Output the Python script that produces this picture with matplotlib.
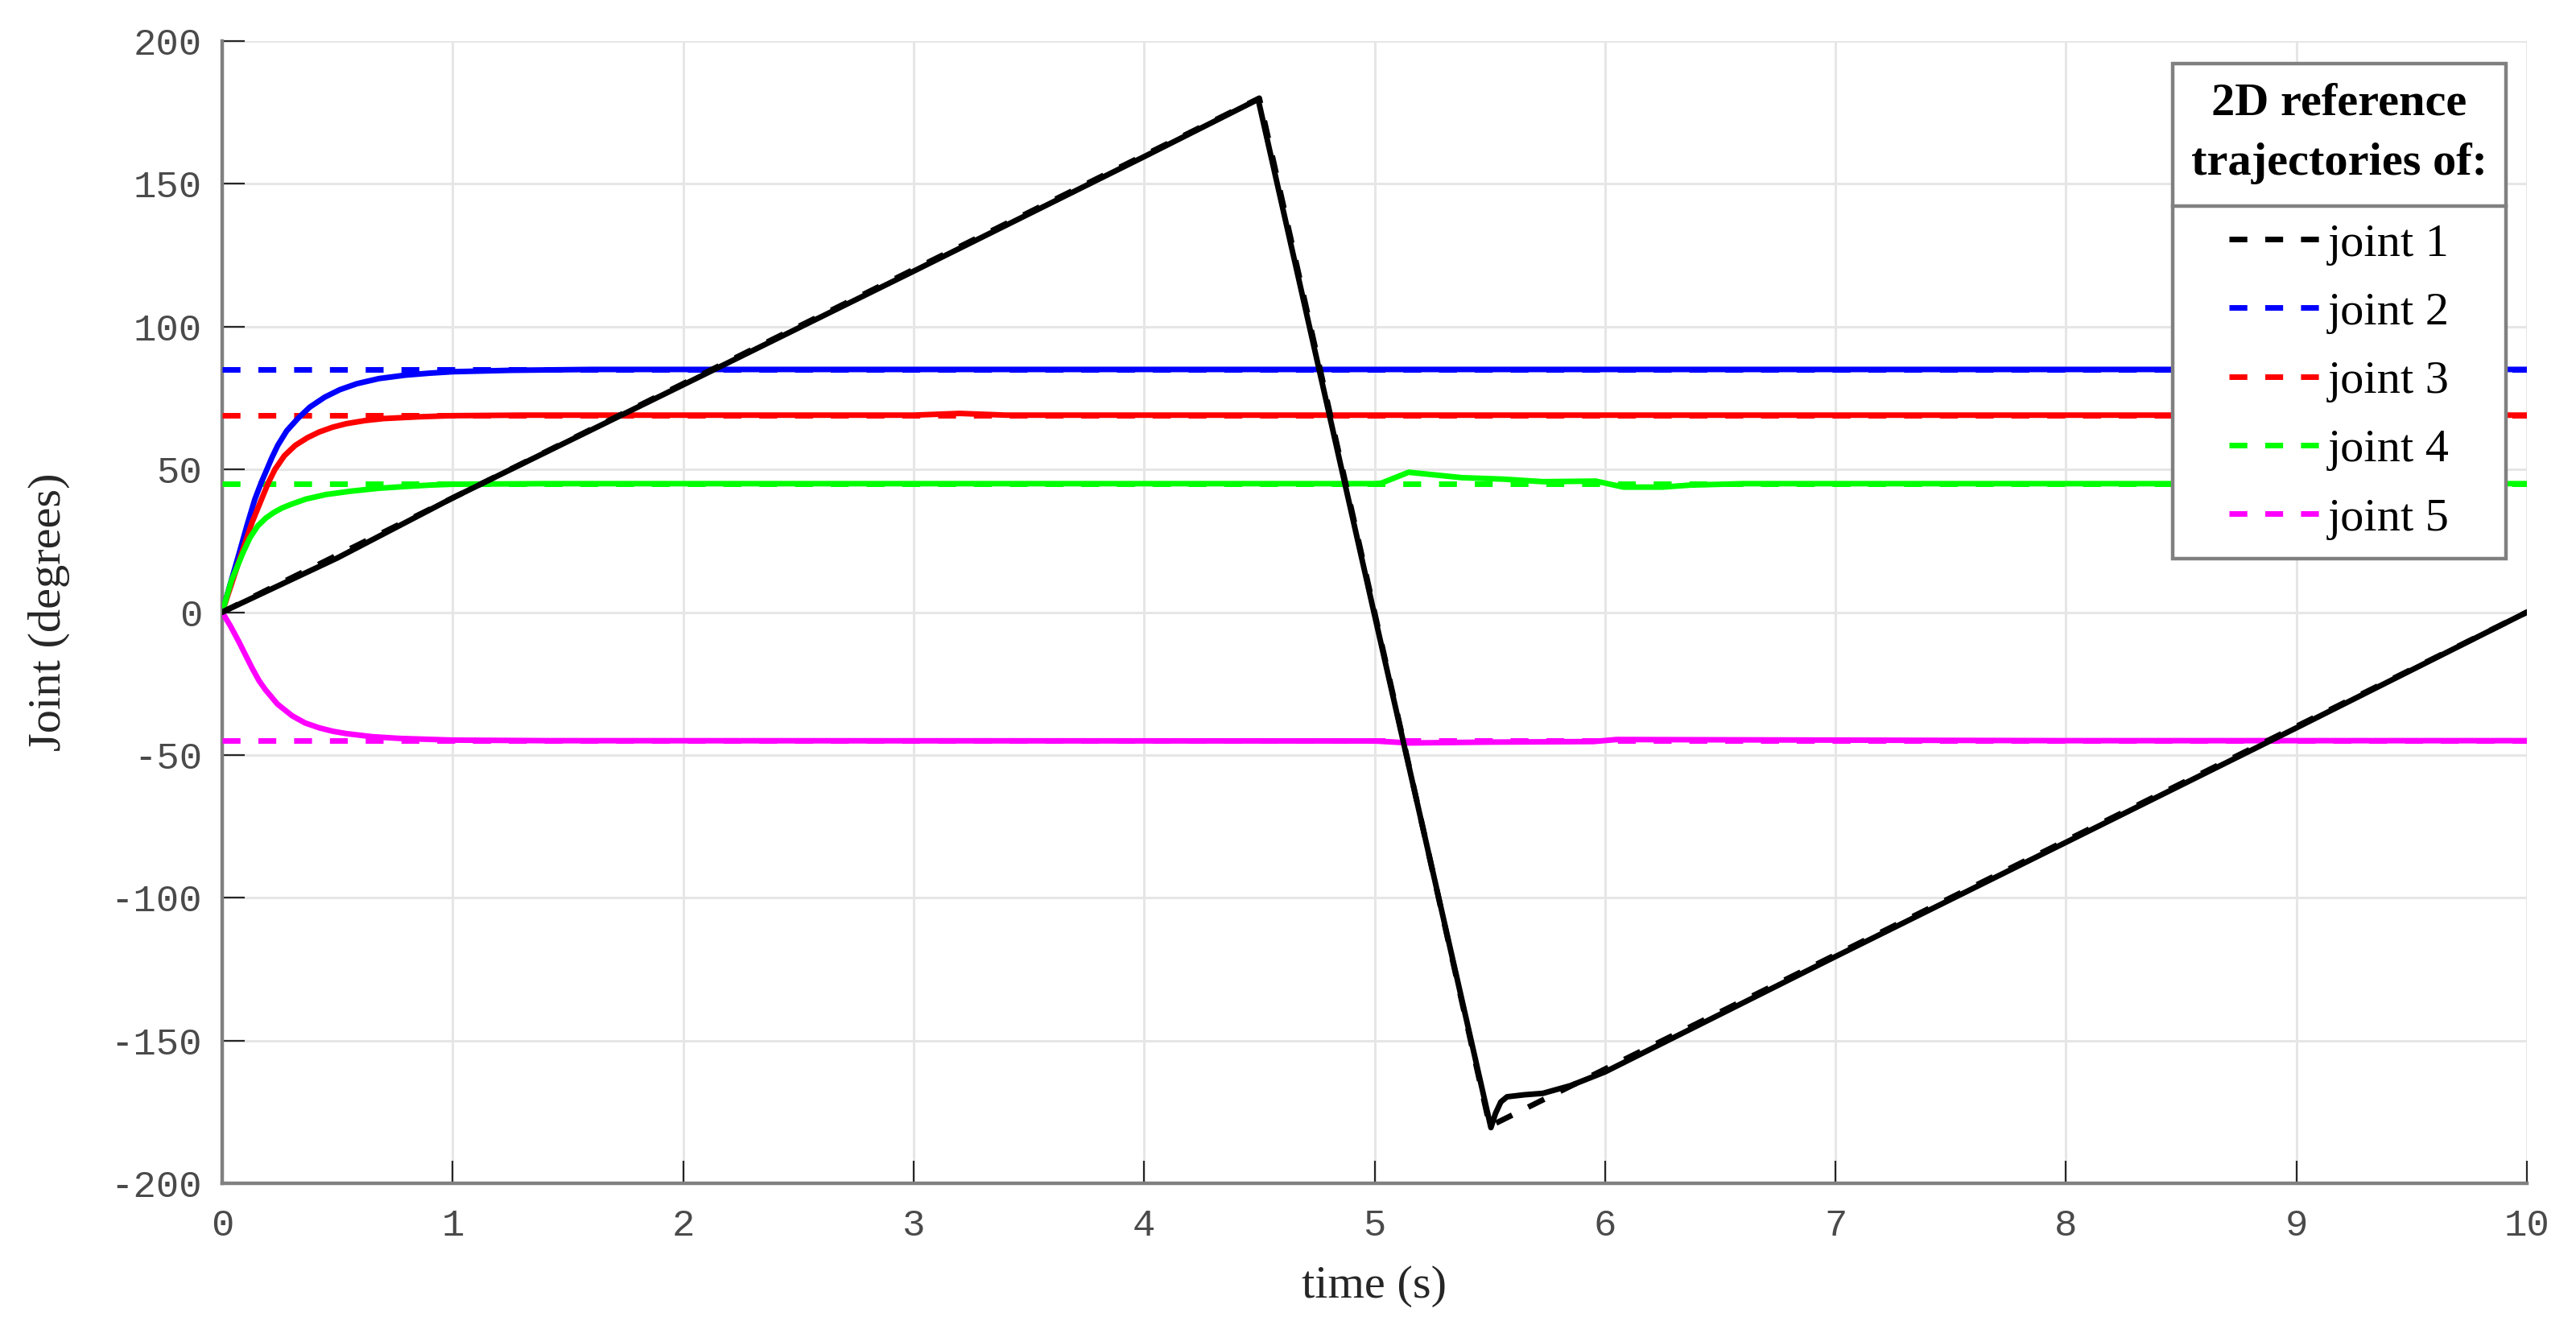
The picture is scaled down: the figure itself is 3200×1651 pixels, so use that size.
import matplotlib
matplotlib.use("Agg")
import matplotlib.pyplot as plt
from matplotlib.font_manager import FontProperties
from matplotlib.lines import Line2D

plt.rcParams['axes.unicode_minus'] = False

# ---------------- data ----------------
# joint 1 reference and measured
t_ref1 = [0, 4.5, 5.5, 10]
ref1 = [0, 180, -180, 0]
t_j1 = [0, 0.5, 1.0, 2.0, 3.0, 4.0, 4.495, 5.0, 5.505, 5.525, 5.548, 5.575, 5.65, 5.73,
        5.85, 6.0, 7.0, 8.0, 9.0, 10.0]
j1 = [0, 19, 40, 79.6, 119.4, 159.5, 179.6, -1, -180.5, -175.5, -171.5, -169.7, -169, -168.5,
      -165.8, -161, -120.6, -80.6, -40.5, 0]

# constant references for joints 2..5
t_ref = [0, 10]
ref2 = [85, 85]
ref3 = [69, 69]
ref4 = [45, 45]
ref5 = [-45, -45]

t_j2 = [0, 0.025, 0.05, 0.075, 0.107, 0.142, 0.17, 0.194, 0.215, 0.241, 0.28, 0.328, 0.38,
        0.445, 0.51, 0.584, 0.68, 0.794, 0.9, 1.0, 1.25, 1.6, 10]
j2 = [0, 7, 14, 21, 30.2, 39.6, 45.5, 50, 54, 58.4, 63.5, 67.8, 71.8,
      75.3, 77.9, 80, 81.8, 83, 83.7, 84.2, 84.7, 85, 85]

t_j3 = [0, 0.045, 0.09, 0.13, 0.171, 0.2, 0.229, 0.27, 0.317, 0.37, 0.421, 0.48, 0.538,
        0.62, 0.70, 0.85, 0.99, 1.3, 3.0, 3.2, 3.4, 10]
j3 = [0, 11, 22, 31.5, 39.6, 45.3, 50, 54.8, 58.4, 61.1, 63.1, 64.8, 66,
      67.1, 67.8, 68.4, 68.8, 69, 69, 69.6, 69, 69]

t_j4 = [0, 0.04, 0.09, 0.12, 0.154, 0.19, 0.224, 0.26, 0.30, 0.363, 0.45, 0.561, 0.68,
        0.794, 0.9, 1.0, 1.4,
        5.0, 5.03, 5.148, 5.38, 5.556, 5.73, 5.96, 6.08, 6.25, 6.37, 6.6, 10]
j4 = [0, 11, 20.8, 26, 30.2, 33, 34.9, 36.5, 37.8, 39.6, 41.2, 42.4, 43.4,
      44, 44.5, 44.8, 45,
      45, 45.2, 49, 47.1, 46.6, 45.7, 45.9, 43.8, 43.8, 44.5, 45, 45]

t_j5 = [0, 0.037, 0.074, 0.10, 0.130, 0.16, 0.188, 0.24, 0.304, 0.36, 0.421, 0.48, 0.537,
        0.65, 0.77, 1.0, 1.4, 5.0, 5.15, 5.5, 5.95, 6.05, 7.0, 8.0, 10]
j5 = [0, -5, -10.6, -14.8, -19.6, -24, -27.2, -32.2, -36.3, -38.8, -40.5, -41.7, -42.5,
      -43.6, -44.2, -44.8, -45, -45.1, -45.8, -45.5, -45.3, -44.6, -44.8, -45, -45]

labels = ['joint 1', 'joint 2', 'joint 3', 'joint 4', 'joint 5']
colors = ['#000000', '#0000ff', '#ff0000', '#00ff00', '#ff00ff']
x_ticks = [0, 1, 2, 3, 4, 5, 6, 7, 8, 9, 10]
y_ticks = [-200, -150, -100, -50, 0, 50, 100, 150, 200]

# ---------------- figure ----------------
fig = plt.figure(figsize=(16, 8.255), dpi=200)
ax = fig.add_axes([0.08625, 0.10963, 0.89469, 0.85948])

LW = 2.5
DASH = (0, (3.2, 3.2))

refs = [(t_ref1, ref1), (t_ref, ref2), (t_ref, ref3), (t_ref, ref4), (t_ref, ref5)]
meas = [(t_j1, j1), (t_j2, j2), (t_j3, j3), (t_j4, j4), (t_j5, j5)]

ref_lines = [None] * 5
for i in [1, 2, 3, 4]:
    l, = ax.plot(refs[i][0], refs[i][1], color=colors[i], lw=LW, ls=DASH, zorder=3)
    ref_lines[i] = l
for i in [1, 2, 3, 4]:
    ax.plot(meas[i][0], meas[i][1], color=colors[i], lw=LW, zorder=3,
            solid_joinstyle='round')
l, = ax.plot(refs[0][0], refs[0][1], color=colors[0], lw=LW, ls=DASH, zorder=4)
ref_lines[0] = l
ax.plot(meas[0][0], meas[0][1], color=colors[0], lw=LW, zorder=4, solid_joinstyle='round')

ax.set_xlim(0, 10)
ax.set_ylim(-200, 200)
ax.set_xticks(x_ticks)
ax.set_yticks(y_ticks)

tick_fp = FontProperties(family='Liberation Mono', size=17)
ax.set_xticklabels([str(v) for v in x_ticks], fontproperties=tick_fp, color='#4a4a4a')
ax.set_yticklabels([str(v) for v in y_ticks], fontproperties=tick_fp, color='#4a4a4a')

ax.grid(True, color='#e6e6e6', lw=1.1, zorder=0)
ax.set_axisbelow(True)
for s in ['top', 'right']:
    ax.spines[s].set_visible(False)
for s in ['left', 'bottom']:
    ax.spines[s].set_color('#808080')
    ax.spines[s].set_linewidth(1.6)
ax.tick_params(axis='both', direction='in', length=10, width=0.8, color='#262626')
ax.tick_params(axis='x', pad=11)
ax.tick_params(axis='y', pad=9)

lab_fp = FontProperties(family='Liberation Serif', size=21)
ax.set_xlabel('time (s)', fontproperties=lab_fp, color='#262626')
ax.set_ylabel('Joint (degrees)', fontproperties=lab_fp, color='#262626')
ax.xaxis.set_label_coords(0.5, -0.072)
ax.yaxis.set_label_coords(-0.066, 0.5)

leg = ax.legend(handles=ref_lines, labels=labels,
                title='2D reference\ntrajectories of:',
                loc='upper right', bbox_to_anchor=(0.991, 0.98), borderaxespad=0,
                frameon=True, fancybox=False, framealpha=1, edgecolor='#808080',
                prop=FontProperties(family='Liberation Serif', size=21),
                title_fontproperties=FontProperties(family='Liberation Serif', size=21, weight='bold'),
                handlelength=1.95, handletextpad=0.15, labelspacing=0.556,
                borderpad=0.4, alignment='center')
leg.get_frame().set_linewidth(1.6)
leg.get_title().set_multialignment('center')
leg.get_title().set_linespacing(1.55)
leg._legend_box.sep = 17.3
leg.set_zorder(10)

fig.canvas.draw()
r = fig.canvas.get_renderer()
fb = leg.get_frame().get_window_extent(r)
tb = leg.get_title().get_window_extent(r)
eb = leg.get_texts()[0].get_window_extent(r)
ysep = (tb.y0 + eb.y1) / 2.0 - 3
inv = fig.transFigure.inverted()
(x0, y0) = inv.transform((fb.x0, ysep))
(x1, _) = inv.transform((fb.x1, ysep))
fig.add_artist(Line2D([x0, x1], [y0, y0], color='#808080', lw=1.6, zorder=11))

fig.savefig('out.png', dpi=200, facecolor='white')
